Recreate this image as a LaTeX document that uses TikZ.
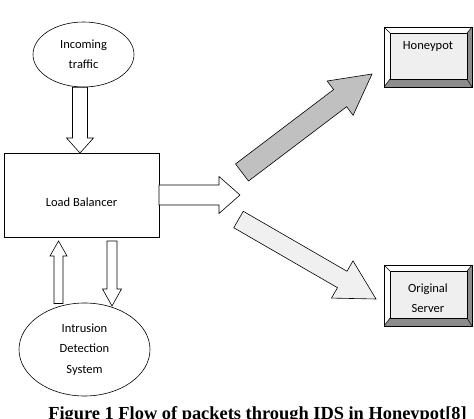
\documentclass[tikz,border=0pt]{standalone}
\usepackage{fontspec}
\setmainfont{Carlito}
\newfontfamily\capfont{Liberation Serif}
\usetikzlibrary{shapes.geometric,calc}

% block arrow: #1 style, #2 tail, #3 tip, #4 half shaft width, #5 half head width, #6 head length
\newcommand\blockarr[6]{%
  \coordinate (ba-h) at ($(#3)!#6!(#2)$);
  \draw[#1] ($(#2)!#4!90:(#3)$) -- ($(ba-h)!#4!90:(#3)$) -- ($(ba-h)!#5!90:(#3)$)
    -- (#3) -- ($(ba-h)!#5!-90:(#3)$) -- ($(ba-h)!#4!-90:(#3)$)
    -- ($(#2)!#4!-90:(#3)$) -- cycle;}

% bevelled button around node #1
\newcommand\bevelbox[1]{%
  \coordinate (bv-a) at ($(#1.north west)+(6,6)$);
  \coordinate (bv-b) at ($(#1.north east)+(-5,6)$);
  \coordinate (bv-c) at ($(#1.south east)+(-5,-8)$);
  \coordinate (bv-d) at ($(#1.south west)+(6,-8)$);
  \fill[white] (#1.north west) -- (#1.north east) -- (bv-b) -- (bv-a) -- cycle;
  \fill[white] (#1.north west) -- (bv-a) -- (bv-d) -- (#1.south west) -- cycle;
  \fill[bevdark] (#1.north east) -- (#1.south east) -- (bv-c) -- (bv-b) -- cycle;
  \fill[bevdark] (#1.south west) -- (bv-d) -- (bv-c) -- (#1.south east) -- cycle;
  \draw[line width=0.6pt, fill=bevface] (bv-a) rectangle (bv-c);
  \draw[line width=0.5pt] (#1.north west) -- (bv-a) (#1.north east) -- (bv-b)
    (#1.south east) -- (bv-c) (#1.south west) -- (bv-d);
  \draw[line width=0.8pt] (#1.north west) rectangle (#1.south east);}

\definecolor{bevdark}{HTML}{8C8C8C}
\definecolor{bevface}{HTML}{EFEFEF}
\definecolor{arrgray}{HTML}{C0C0C0}
\definecolor{arrlight}{HTML}{F0F0F0}

\tikzset{
  lbl/.style={font=\fontsize{12.5}{20.5}\selectfont, align=center, inner sep=0pt},
  oval/.style={ellipse, draw, line width=0.6pt, inner sep=0pt, lbl},
  plainbox/.style={rectangle, draw, line width=0.6pt, inner sep=0pt, outer sep=0pt},
  btn/.style={rectangle, inner sep=0pt, outer sep=0pt, minimum width=88pt, minimum height=60pt},
  hollow/.style={draw, fill=white, line width=0.6pt, line join=miter},
  grayarr/.style={draw, fill=arrgray, line width=0.6pt, line join=miter},
  lightarr/.style={draw, fill=arrlight, line width=0.6pt, line join=miter},
}

\begin{document}
\begin{tikzpicture}[x=1pt, y=-1pt]
  \useasboundingbox (0,0) rectangle (474,419);
  \clip (0,0) rectangle (474,419);

  % nodes
  \node[oval, minimum width=101pt, minimum height=65pt] (in) at (83.5,54.5) {Incoming\\traffic};
  \node[plainbox, minimum width=155pt, minimum height=84pt] (lb) at (81.5,195) {};
  \node[lbl] (lbt) at (81.5,202) {Load Balancer};
  \node[oval, minimum width=131pt, minimum height=93pt] (ids) at (84.5,349.5) {Intrusion\\Detection\\System};

  \node[btn] (hp) at (428,57) {};
  \bevelbox{hp}
  \node[lbl] (hpt) at (428,47) {Honeypot};

  \node[btn, minimum height=61pt] (os) at (428,295.5) {};
  \bevelbox{os}
  \node[lbl] (ost) at (428,298) {Original\\Server};

  % connector end points
  \coordinate (a1t) at (in.south -| 80,0);
  \coordinate (a1h) at (lb.north -| 80,0);
  \coordinate (a2t) at (lb.east);
  \coordinate (a2h) at (240,195);
  \coordinate (a3t) at (58.5,303.5);
  \coordinate (a3h) at (lb.south -| 58.5,0);
  \coordinate (a3h2) at ($(a3h)+(0,4)$);
  \coordinate (a4t) at ($(lb.south -| 112,0)+(0,4)$);
  \coordinate (a4h) at (112,306);
  \coordinate (a5t) at (242,172.5);
  \coordinate (a5h) at (372,74);
  \coordinate (a6t) at (238.5,219.5);
  \coordinate (a6h) at (376,299);

  % arrows
  \blockarr{hollow}{a1t}{a1h}{7.5pt}{13.5pt}{15pt}
  \blockarr{hollow}{a2t}{a2h}{10pt}{18.5pt}{21pt}
  \blockarr{hollow}{a3t}{a3h2}{4.5pt}{8.5pt}{15pt}
  \blockarr{hollow}{a4t}{a4h}{5pt}{9.5pt}{17pt}
  \blockarr{grayarr}{a5t}{a5h}{10.75pt}{21.5pt}{40pt}
  \blockarr{lightarr}{a6t}{a6h}{9.5pt}{21.5pt}{39pt}

  % caption
  \node[font=\capfont\bfseries\fontsize{18.4}{20}\selectfont, anchor=base, inner sep=0pt] (cap) at (257.5,420)
    {Figure 1 Flow of packets through IDS in Honeypot[8]};
\end{tikzpicture}
\end{document}
